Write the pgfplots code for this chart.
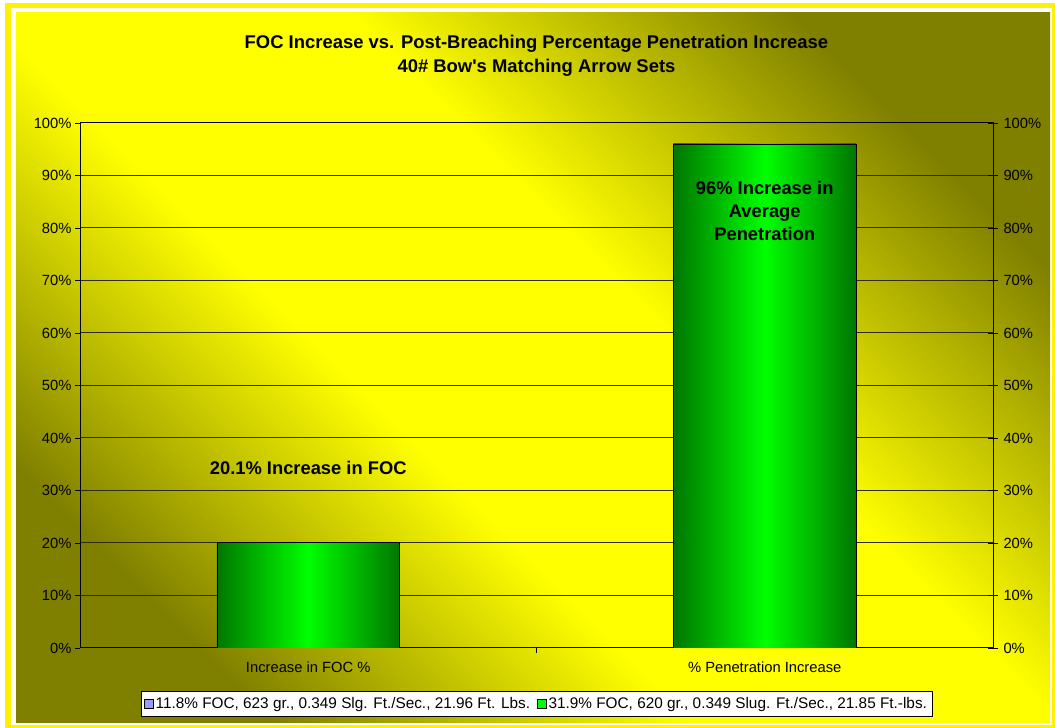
\documentclass[border=0pt]{standalone}
\usepackage{fontspec}
\setmainfont{Liberation Sans}[Ligatures=TeXOff]
\usepackage{pgfplots}
\pgfplotsset{compat=1.18}
\definecolor{olv}{RGB}{128,128,0}
\definecolor{dkg}{RGB}{0,118,0}
\definecolor{brg}{RGB}{0,255,0}
\definecolor{lav}{RGB}{153,153,255}
\definecolor{gridc}{RGB}{45,45,0}
\pgfdeclareverticalshading{bgsh}{100bp}{color(0bp)=(olv); color(25bp)=(olv); color(42bp)=(yellow); color(57bp)=(yellow); color(75bp)=(olv); color(100bp)=(olv)}
\begin{document}
\begin{tikzpicture}[x=1bp,y=1bp]
\useasboundingbox (0,0) rectangle (1055,728);
\fill[white] (0,0) rectangle (1055,728);
\fill[yellow] (5,0) rectangle (1055,725);
\fill[white] (11,3) rectangle (1052,720);
\shade[shading=bgsh, shading angle=-45] (16,5) rectangle (1050,715);
\node[font=\bfseries\fontsize{18.5}{24}\selectfont, align=center] at (536.5,672) {FOC Increase vs. Post-Breaching Percentage Penetration Increase\\40\# Bow's Matching Arrow Sets};
\begin{axis}[
  at={(80bp,80bp)}, anchor=south west, scale only axis,
  width=913bp, height=525bp,
  xmin=-0.5, xmax=1.5, ymin=0, ymax=100,
  axis line style={black, line width=1bp},
  ytick={0,10,...,100},
  yticklabels={0\%,10\%,20\%,30\%,40\%,50\%,60\%,70\%,80\%,90\%,100\%},
  ytick pos=left, yticklabel pos=left,
  ymajorgrids, grid style={gridc, line width=1bp},
  ytick style={black, line width=0.9bp},
  major tick length=5bp, tick align=outside,
  xtick={0,1}, xticklabels={Increase in FOC \%, \% Penetration Increase},
  xtick pos=bottom,
  xticklabel style={yshift=-5bp},
  major x tick style={draw=none},
  extra x ticks={0.5}, extra x tick labels={},
  extra x tick style={grid=none, major x tick style={draw=black, line width=0.9bp}},
  tick label style={font=\fontsize{14.8}{17}\selectfont},
  legend style={at={(0.5,-0.1067)}, anchor=center, legend columns=2, draw=black, line width=0.8bp, fill=white, font=\fontsize{15.4}{18}\selectfont, inner xsep=3bp, inner ysep=4bp, /tikz/every even column/.style={column sep=5bp}},
  legend image code/.code={\draw[#1, line width=0.6bp] (0bp,-4.5bp) rectangle (9bp,4.5bp);},
]
\addplot[ybar, bar width=0.4, draw=black, line width=0.9bp, left color=dkg, right color=dkg, middle color=brg, forget plot] coordinates {(0,20.1)};
\addplot[ybar, bar width=0.4, draw=black, line width=0.9bp, left color=dkg, right color=dkg, middle color=brg, forget plot] coordinates {(1,96)};
\addlegendimage{fill=lav, draw=black}
\addlegendentry{11.8\% FOC, 623 gr., 0.349 Slg. Ft./Sec., 21.96 Ft. Lbs.}
\addlegendimage{fill=brg, draw=black}
\addlegendentry{31.9\% FOC, 620 gr., 0.349 Slug. Ft./Sec., 21.85 Ft.-lbs.}
\node[font=\bfseries\fontsize{18.4}{23}\selectfont] at (axis cs:0,34.3) {20.1\% Increase in FOC};
\node[font=\bfseries\fontsize{18.4}{23}\selectfont, align=center] at (axis cs:1,83.2) {96\% Increase in\\Average\\Penetration};
\end{axis}
\begin{axis}[
  at={(80bp,80bp)}, anchor=south west, scale only axis,
  width=913bp, height=525bp,
  xmin=-0.5, xmax=1.5, ymin=0, ymax=100,
  hide x axis,
  axis y line*=right,
  axis line style={-, black, line width=1bp},
  ytick={0,10,...,100},
  yticklabels={0\%,10\%,20\%,30\%,40\%,50\%,60\%,70\%,80\%,90\%,100\%},
  ytick style={black, line width=0.9bp},
  major tick length=10bp, tick align=center,
  yticklabel style={xshift=2bp},
  tick label style={font=\fontsize{14.8}{17}\selectfont},
]
\addplot[draw=none] coordinates {(0,0)};
\end{axis}
\end{tikzpicture}
\end{document}
